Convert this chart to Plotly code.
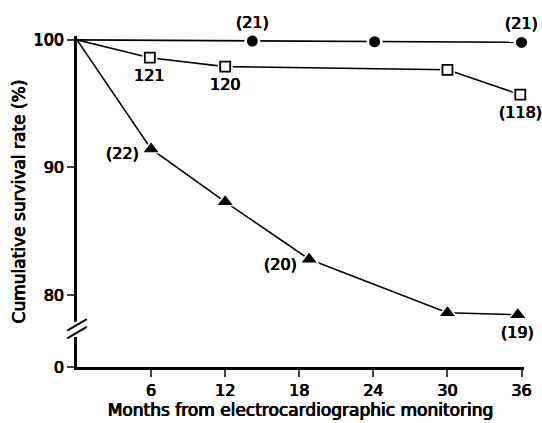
import plotly.graph_objects as go

# Data
circ_x = [0, 14.2, 24.1, 36]
circ_y = [100, 99.9, 99.85, 99.8]
sq_x = [0, 5.9, 12.0, 30.0, 35.9]
sq_y = [100, 98.6, 97.9, 97.65, 95.7]
tri_x = [0, 6.0, 12.0, 18.8, 30.0, 35.7]
tri_y = [100, 91.45, 87.3, 82.8, 78.6, 78.45]

x_ticks = [6, 12, 18, 24, 30, 36]
BREAK_ZERO = 74.35  # plotted position of the "0" after the axis break
y_tickvals = [BREAK_ZERO, 80, 90, 100]
y_ticktext = ["0", "80", "90", "100"]

labels = [
    (14.2, 99.9, "(21)", "above"),
    (36, 99.8, "(21)", "above"),
    (5.9, 98.6, "121", "below"),
    (12.0, 97.9, "120", "below"),
    (35.9, 95.7, "(118)", "below"),
    (6.0, 91.45, "(22)", "left"),
    (18.8, 82.8, "(20)", "left"),
    (35.7, 78.45, "(19)", "below"),
]

FONT = "DejaVu Sans"
SHADOW = "0.45px 0 0 black, -0.45px 0 0 black, 0 0.35px 0 black"
fig = go.Figure()

for xs, ys in [(circ_x, circ_y), (sq_x, sq_y), (tri_x, tri_y)]:
    fig.add_trace(go.Scatter(x=xs, y=ys, mode="lines",
                             line=dict(color="black", width=1.6),
                             showlegend=False, hoverinfo="skip", cliponaxis=False))

# white halos around markers
fig.add_trace(go.Scatter(x=circ_x[1:], y=circ_y[1:], mode="markers", cliponaxis=False,
                         marker=dict(symbol="circle", size=16, color="white"),
                         showlegend=False, hoverinfo="skip"))
fig.add_trace(go.Scatter(x=sq_x[1:], y=sq_y[1:], mode="markers", cliponaxis=False,
                         marker=dict(symbol="square", size=15, color="white"),
                         showlegend=False, hoverinfo="skip"))
fig.add_trace(go.Scatter(x=tri_x[1:], y=tri_y[1:], mode="markers", cliponaxis=False,
                         marker=dict(symbol="triangle-up", size=18, color="white"),
                         showlegend=False, hoverinfo="skip"))

fig.add_trace(go.Scatter(x=circ_x[1:], y=circ_y[1:], mode="markers", cliponaxis=False,
                         marker=dict(symbol="circle", size=11, color="black"),
                         showlegend=False))
fig.add_trace(go.Scatter(x=sq_x[1:], y=sq_y[1:], mode="markers", cliponaxis=False,
                         marker=dict(symbol="square", size=10, color="white",
                                     line=dict(color="black", width=1.8)),
                         showlegend=False))
fig.add_trace(go.Scatter(x=tri_x[1:], y=tri_y[1:], mode="markers", cliponaxis=False,
                         marker=dict(symbol="triangle-up", size=13, color="black"),
                         showlegend=False))

LBL = dict(family=FONT, size=16, color="black", shadow=SHADOW)
for x, y, t, pos in labels:
    if pos == "above":
        fig.add_annotation(x=x, y=y, text=t, showarrow=False, yshift=19, font=LBL)
    elif pos == "below":
        fig.add_annotation(x=x, y=y, text=t, showarrow=False, yshift=-18, font=LBL)
    else:
        fig.add_annotation(x=x, y=y, text=t, showarrow=False, xanchor="right",
                           xshift=-10, yshift=-5, font=LBL)

# axis break marks
fig.add_shape(type="rect", xref="paper", yref="y", x0=-0.01, x1=0.01,
              y0=76.7, y1=77.9, fillcolor="white", line=dict(width=0), layer="above")
fig.add_shape(type="line", xref="paper", yref="y", x0=-0.022, x1=0.022,
              y0=76.6, y1=77.5, line=dict(color="black", width=2), layer="above")
fig.add_shape(type="line", xref="paper", yref="y", x0=-0.022, x1=0.022,
              y0=77.2, y1=78.1, line=dict(color="black", width=2), layer="above")

TICKF = dict(family=FONT, size=16, color="black", shadow=SHADOW)
TITF = dict(family=FONT, size=17, color="black", shadow=SHADOW)
fig.update_layout(
    width=542, height=423,
    margin=dict(l=77, r=18, t=36, b=56),
    plot_bgcolor="white", paper_bgcolor="white",
    font=dict(family=FONT, size=16, color="black"),
    xaxis=dict(range=[0, 36.2], tickvals=x_ticks, ticks="outside", ticklen=7,
               tickwidth=2, showline=True, linecolor="black", linewidth=2.5,
               showgrid=False, zeroline=False, automargin=False,
               tickfont=TICKF,
               title=dict(text="Months from electrocardiographic monitoring",
                          font=TITF, standoff=0)),
    yaxis=dict(range=[BREAK_ZERO, 100.3], tickvals=y_tickvals, ticktext=y_ticktext,
               ticks="outside", ticklen=7, tickwidth=2, showline=True,
               linecolor="black", linewidth=2.5, showgrid=False, zeroline=False,
               automargin=False,
               tickfont=TICKF,
               title=dict(text="Cumulative survival rate (%)",
                          font=TITF, standoff=4)),
)

fig.write_html("out.html", config={"displayModeBar": False},
               post_script="document.body.style.margin='0';document.body.style.padding='0';document.body.style.overflow='hidden';")
